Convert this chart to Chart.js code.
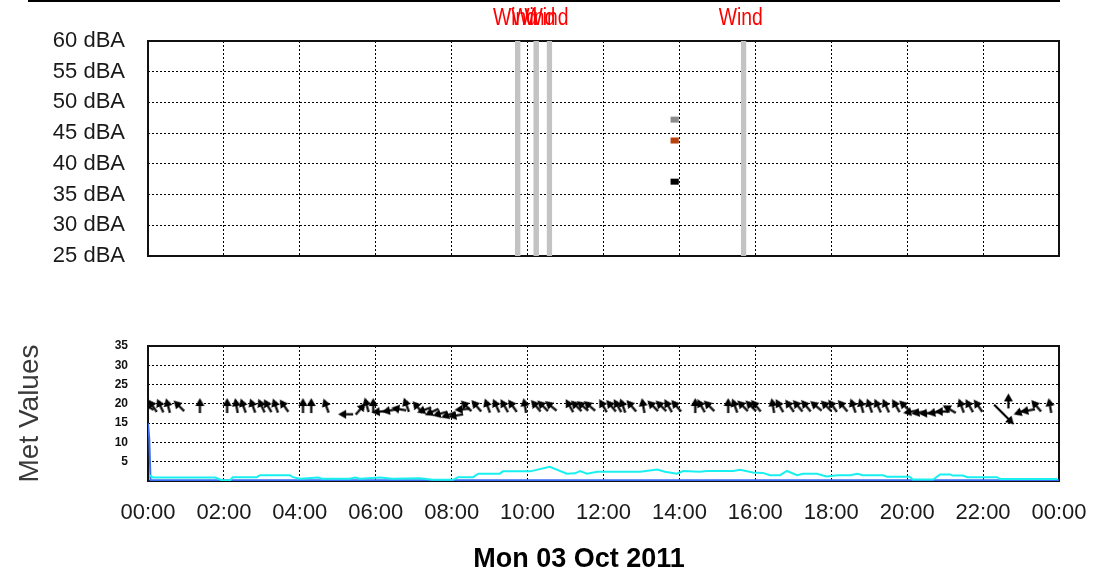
<!DOCTYPE html>
<html lang="en">
<head>
<meta charset="UTF-8">
<title>Noise and met values - Mon 03 Oct 2011</title>
<script src="https://cdn.jsdelivr.net/npm/chart.js@4/dist/chart.umd.min.js"></script>
<style>
  html, body { margin: 0; padding: 0; background: #fff; }
  #page { position: relative; width: 1095px; height: 576px; overflow: hidden; }
  #topRule { position: absolute; left: 28px; top: 0; width: 1032px; height: 2px; background: #000; }
  #levelChart { position: absolute; left: 0; top: 0; }
  #metChart { position: absolute; left: 0; top: 290px; }
</style>
</head>
<body>
<div id="page">
  <canvas id="levelChart" width="1095" height="290"></canvas>
  <canvas id="metChart" width="1095" height="286"></canvas>
  <div id="topRule"></div>
</div>
<script>
// time axis in minutes since midnight
const dayStart = 0;
const dayEnd = 1440;
const hourTickStep = 120;
const dateLabel = 'Mon 03 Oct 2011';

// top chart: flagged wind periods
const windStart = [580, 609, 630, 937];
const windEnd = [589, 618, 639, 946];
const windLabel = 'Wind';

// top chart: 15-min noise levels (13:45 - 14:00)
const levelStart = 825;
const levelEnd = 840;
const levelValues = [47.2, 43.8, 37.1];
const levelColors = ['#8c8c8c', '#b8410c', '#000000'];
const levelTicks = [25, 60];

// bottom chart: met lines
const blueTimes = [0, 2, 4, 1440];
const blueValues = [15, 11, 0.2, 0.2];

const cyanTimes = [2, 8, 106, 117, 130, 134, 172, 177, 224, 229, 240, 269, 275, 319, 327, 335, 367, 386,
  430, 450, 482, 490, 514, 522, 556, 561, 604, 635, 662, 675, 683, 694, 710, 778, 805, 817, 836, 846,
  872, 884, 925, 936, 956, 972, 983, 999, 1010, 1026, 1035, 1057, 1073, 1089, 1110, 1121, 1130, 1162,
  1168, 1204, 1209, 1241, 1252, 1268, 1272, 1288, 1295, 1342, 1347, 1437];
const cyanValues = [1.5, 0.9, 0.9, 0.2, 0.2, 1.0, 1.0, 1.5, 1.5, 1.0, 0.6, 0.9, 0.6, 0.6, 0.9, 0.6, 0.9, 0.6,
  0.7, 0.3, 0.3, 1.0, 1.0, 1.9, 1.9, 2.5, 2.5, 3.7, 1.9, 2.0, 2.6, 1.9, 2.4, 2.4, 3.0, 2.4, 1.9, 2.6,
  2.4, 2.6, 2.6, 2.9, 2.2, 2.1, 1.5, 1.5, 2.6, 1.5, 1.9, 1.9, 1.2, 1.5, 1.5, 1.9, 1.5, 1.5,
  1.1, 1.1, 0.4, 0.4, 1.7, 1.7, 1.4, 1.4, 1.0, 1.0, 0.5, 0.5];

// bottom chart: wind direction arrows (rotation in degrees, 0 = pointing up)
const arrowTimes = [0, 8, 20, 32, 50, 82, 125, 140, 151, 166, 180, 190, 202, 216, 245, 258, 282, 314, 335, 346,
  356, 367, 383, 398, 409, 427, 438, 450, 463, 476, 488, 498, 504, 520, 537, 551, 564, 577, 596, 614,
  625, 638, 667, 678, 688, 699, 720, 733, 743, 751, 765, 783, 799, 812, 823, 836, 865, 875, 888, 917,
  928, 941, 954, 962, 988, 999, 1015, 1028, 1041, 1057, 1073, 1083, 1099, 1115, 1128, 1141, 1154, 1167, 1183, 1197,
  1207, 1220, 1232, 1245, 1257, 1268, 1286, 1299, 1313, 1360, 1381, 1392, 1405, 1426];
const arrowDirs = [-60, -35, -25, -15, -45, 0, 0, -10, -20, -20, -25, -30, -20, -35, 0, 0, -20, -90, 40, -15,
  0, -95, -100, -80, -20, -40, -110, -115, -105, -110, -100, -95, -45, -40, -20, -25, -30, -35, -10, -40,
  -45, -50, -30, -45, -50, -50, -30, -40, -30, -20, -40, -10, -45, -45, -30, -40, 0, -30, -45, 0,
  -20, -45, -45, -40, -10, -30, -35, -40, -40, -50, -45, -35, -40, -20, -15, -20, -25, -25, -30, -45,
  -100, -100, -95, -100, -90, -60, -20, -30, -35, 0, -110, -100, -40, -10];
const arrowLevels = [19.3, 19.3, 19.3, 19.3, 19.3, 19.3, 19.3, 19.3, 19.3, 19.3, 19.3, 19.3, 19.3, 19.3, 19.3, 19.3, 19.3, 17.3, 18.5, 19.5,
  19.3, 18.0, 18.3, 18.6, 19.5, 19.0, 18.5, 18.0, 17.5, 17.2, 17.0, 18.6, 19.3, 19.3, 19.3, 19.3, 19.3, 19.3, 19.3, 19.3,
  19.3, 19.3, 19.3, 19.3, 19.3, 19.3, 19.3, 19.3, 19.3, 19.3, 19.3, 19.3, 19.3, 19.3, 19.3, 19.3, 19.3, 19.3, 19.3, 19.3,
  19.3, 19.3, 19.3, 19.3, 19.3, 19.3, 19.3, 19.3, 19.3, 19.3, 19.3, 19.3, 19.3, 19.3, 19.3, 19.3, 19.3, 19.3, 19.3, 19.3,
  18.0, 17.8, 17.6, 17.8, 18.0, 18.5, 19.3, 19.3, 19.3, 20.5, 18.0, 18.3, 19.3, 19.3];
// one long arrow (strong gust) around 22:32
const gustTime = [1352];
const gustDir = [135];
const gustLevel = [17.4];
const metTicks = [0, 35];

function hhmm(m) {
  const h = Math.floor((m % 1440) / 60), mm = m % 60;
  return String(h).padStart(2, '0') + ':' + String(mm).padStart(2, '0');
}

function arrowImage(len) {
  const c = document.createElement('canvas');
  c.width = len + 6; c.height = len + 6;
  const g = c.getContext('2d');
  const cx = c.width / 2;
  g.strokeStyle = '#000'; g.fillStyle = '#000'; g.lineWidth = 2.2;
  g.beginPath(); g.moveTo(cx, c.height - 3); g.lineTo(cx, 7); g.stroke();
  g.beginPath(); g.moveTo(cx, 1); g.lineTo(cx - 4.5, 9); g.lineTo(cx + 4.5, 9); g.closePath(); g.fill();
  return c;
}

const frame = {
  id: 'frame',
  beforeDatasetsDraw(chart) {
    const a = chart.chartArea, ctx = chart.ctx;
    ctx.save();
    ctx.strokeStyle = '#111'; ctx.lineWidth = 2;
    ctx.strokeRect(a.left, a.top, a.right - a.left, a.bottom - a.top);
    ctx.restore();
  }
};

const windLabels = {
  id: 'windLabels',
  afterDraw(chart) {
    const ctx = chart.ctx, x = chart.scales.x;
    ctx.save();
    ctx.fillStyle = '#ff0000';
    ctx.font = '22px "Liberation Sans", Arial, sans-serif';
    ctx.textAlign = 'center'; ctx.textBaseline = 'middle';
    windStart.forEach(s => {
      ctx.save();
      ctx.translate(x.getPixelForValue(s), 19);
      ctx.scale(0.88, 1.05);
      ctx.fillText(windLabel, 0, 0);
      ctx.restore();
    });
    ctx.restore();
  }
};

const dateTitle = {
  id: 'dateTitle',
  afterDraw(chart) {
    const ctx = chart.ctx;
    ctx.save();
    ctx.fillStyle = '#000';
    ctx.font = 'bold 27px "Liberation Sans", Arial, sans-serif';
    ctx.textAlign = 'center'; ctx.textBaseline = 'middle';
    ctx.fillText(dateLabel, 579, 270);
    ctx.restore();
  }
};

function gridOpts() {
  return { color: '#000', lineWidth: 1, drawTicks: false };
}
const gridBorder = { display: false, dash: [2, 2] };

// ---- top chart: noise levels
const levelSets = [];
windStart.forEach((s, i) => {
  levelSets.push({
    data: [{ x: s, y: levelTicks[1] }, { x: windEnd[i], y: levelTicks[1] }],
    borderWidth: 0, pointRadius: 0, fill: 'start', backgroundColor: '#c3c3c3'
  });
});
levelValues.forEach((v, i) => {
  levelSets.push({
    data: [{ x: levelStart + 1, y: v }, { x: levelEnd - 1, y: v }],
    borderColor: levelColors[i], borderWidth: 6, borderCapStyle: 'butt', pointRadius: 0, fill: false
  });
});

new Chart(document.getElementById('levelChart'), {
  type: 'line',
  data: { datasets: levelSets },
  options: {
    responsive: false, animation: false,
    layout: { padding: { top: 41, right: 36, bottom: 34, left: 0 } },
    plugins: { legend: { display: false }, tooltip: { enabled: false } },
    scales: {
      x: {
        type: 'linear', min: dayStart, max: dayEnd,
        ticks: { display: false, stepSize: hourTickStep },
        grid: gridOpts(), border: gridBorder,
        afterFit(s) { s.height = 0; s.paddingLeft = 0; s.paddingRight = 0; }
      },
      y: {
        min: levelTicks[0], max: levelTicks[1],
        ticks: {
          stepSize: 5, padding: 23, color: '#1a1a1a',
          font: { family: '"Liberation Sans", Arial, sans-serif', size: 22 },
          callback: v => v + ' dBA'
        },
        grid: gridOpts(), border: gridBorder,
        afterFit(s) { s.width = 148; s.paddingTop = 0; s.paddingBottom = 0; }
      }
    }
  },
  plugins: [frame, windLabels]
});

// ---- bottom chart: met values
const shortArrow = arrowImage(13);
const longArrow = arrowImage(26);

new Chart(document.getElementById('metChart'), {
  type: 'line',
  data: {
    datasets: [
      {
        data: cyanTimes.map((t, i) => ({ x: t, y: cyanValues[i] })),
        borderColor: '#19f0f0', borderWidth: 2, pointRadius: 0, fill: false
      },
      {
        data: blueTimes.map((t, i) => ({ x: t, y: blueValues[i] })),
        borderColor: '#3b6cf6', borderWidth: 2, pointRadius: 0, fill: false
      },
      {
        data: arrowTimes.map((t, i) => ({ x: t, y: arrowLevels[i] })),
        showLine: false, pointStyle: shortArrow, rotation: arrowDirs, pointRadius: 7
      },
      {
        data: gustTime.map((t, i) => ({ x: t, y: gustLevel[i] })),
        showLine: false, pointStyle: longArrow, rotation: gustDir, pointRadius: 13
      }
    ]
  },
  options: {
    responsive: false, animation: false,
    layout: { padding: { top: 56, right: 36, bottom: 0, left: 0 } },
    plugins: { legend: { display: false }, tooltip: { enabled: false } },
    scales: {
      x: {
        type: 'linear', min: dayStart, max: dayEnd,
        ticks: {
          stepSize: hourTickStep, padding: 19, color: '#1a1a1a', maxRotation: 0,
          font: { family: '"Liberation Sans", Arial, sans-serif', size: 22 },
          callback: v => hhmm(v)
        },
        grid: gridOpts(), border: gridBorder,
        afterFit(s) { s.height = 95; s.paddingLeft = 0; s.paddingRight = 0; }
      },
      y: {
        min: metTicks[0], max: metTicks[1],
        ticks: {
          stepSize: 5, padding: 20, color: '#111',
          font: { family: '"Liberation Sans", Arial, sans-serif', size: 12, weight: 'bold' },
          callback: v => (v === 0 ? '' : v)
        },
        title: {
          display: true, text: 'Met Values', color: '#3a3a3a', padding: 13,
          font: { family: '"Liberation Sans", Arial, sans-serif', size: 28 }
        },
        grid: gridOpts(), border: gridBorder,
        afterFit(s) { s.width = 148; s.paddingTop = 0; s.paddingBottom = 0; }
      }
    }
  },
  plugins: [frame, dateTitle]
});
</script>
</body>
</html>
